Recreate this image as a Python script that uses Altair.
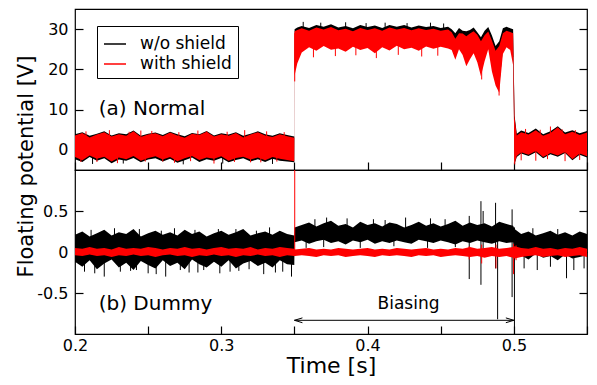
import altair as alt
import pandas as pd

SERIES = ["w/o shield", "with shield"]
COLORS = ["#000000", "#ff0000"]

X_DOMAIN = [0.2, 0.55]
X_TICKS = [0.2, 0.25, 0.3, 0.35, 0.4, 0.45, 0.5, 0.55]
TOP_Y_DOMAIN = [-5, 35]
TOP_Y_TICKS = [0, 10, 20, 30]
BOT_Y_DOMAIN = [-1, 1]
BOT_Y_TICKS = [-0.5, 0, 0.5]

# ---------------- top panel (a) Normal: noise envelopes ----------------
TOP_T = [0.200, 0.205, 0.210, 0.215, 0.220, 0.225, 0.230, 0.235, 0.240, 0.245,
         0.250, 0.255, 0.260, 0.265, 0.270, 0.275, 0.280, 0.285, 0.290, 0.295,
         0.300, 0.305, 0.310, 0.315, 0.320, 0.325, 0.330, 0.335, 0.340, 0.345, 0.3499,
         0.3501, 0.352, 0.355, 0.360, 0.365, 0.370, 0.375, 0.380, 0.385, 0.390,
         0.395, 0.400, 0.405, 0.410, 0.415, 0.420, 0.425, 0.430, 0.435, 0.440,
         0.445, 0.450, 0.455,
         0.4575, 0.460, 0.4625, 0.465, 0.4675, 0.470, 0.4725, 0.475, 0.4775, 0.480,
         0.4825, 0.485, 0.4875, 0.490, 0.4925, 0.495, 0.4975, 0.4995,
         0.5005, 0.502, 0.505, 0.510, 0.515, 0.520, 0.525, 0.530, 0.535, 0.540, 0.545, 0.550]

TOP_RED_HI = [3.6, 4.2, 3.1, 3.8, 4.4, 3.3, 3.9, 3.5, 4.6, 3.2, 3.8, 4.1, 3.4, 4.3, 3.6, 3.0,
              4.0, 3.7, 4.5, 3.3, 3.9, 3.5, 4.2, 3.1, 3.8, 4.4, 3.6, 3.2, 3.9, 3.4, 3.0,
              29.5, 29.8, 30.2, 29.6, 30.4, 29.9, 30.5, 29.7, 30.1, 29.5, 30.3, 29.8, 30.2,
              29.6, 30.4, 29.9, 30.3, 29.7, 30.2, 29.8, 30.1, 29.6, 29.9,
              29.2, 27.6, 29.0, 28.9, 28.2, 28.9, 29.5, 28.6, 27.0, 28.5, 29.4, 27.2, 24.6,
              25.8, 29.0, 29.6, 29.3, 29.0,
              8.0, 3.6, 4.4, 3.8, 4.9, 3.5, 4.2, 5.6, 3.9, 4.5, 3.7, 4.3]
TOP_RED_LO = [-1.8, -2.6, -1.4, -2.2, -1.7, -2.9, -1.9, -2.3, -1.5, -2.7, -2.0, -1.6, -2.4,
              -1.8, -2.8, -2.1, -1.5, -2.5, -1.9, -2.2, -1.6, -2.7, -2.0, -1.7, -2.4, -1.9,
              -2.6, -1.8, -2.2, -2.5, -2.8,
              18.5, 21.5, 24.2, 25.5, 24.6, 25.8, 24.9, 25.2, 24.4, 25.6, 24.8, 25.3, 24.0,
              25.5, 24.7, 25.9, 25.0, 25.4, 24.6, 25.7, 25.1, 25.6, 25.2,
              24.8, 22.4, 25.0, 23.6, 20.8, 22.5, 24.0, 21.8, 18.3, 22.0, 25.0, 19.5, 16.0,
              14.2, 23.8, 25.5, 24.8, 21.0,
              -3.3, -1.5, -0.6, -1.2, -0.3, -1.8, -0.8, -1.4, -0.5, -2.3, -0.9, -1.6]
TOP_BLACK_HI = [3.9, 4.4, 3.5, 4.0, 4.6, 3.6, 4.1, 3.9, 4.8, 3.5, 4.0, 4.3, 3.7, 4.5, 3.9, 3.4,
                4.2, 3.9, 4.7, 3.6, 4.1, 3.8, 4.4, 3.5, 4.0, 4.6, 3.9, 3.5, 4.1, 3.7, 3.3,
                30.0, 30.4, 30.8, 30.3, 31.0, 30.6, 31.2, 30.4, 30.8, 30.2, 31.0, 30.5, 30.9,
                30.3, 31.0, 30.6, 31.0, 30.4, 30.9, 30.5, 30.8, 30.3, 30.6,
                30.0, 29.0, 30.3, 29.6, 29.5, 29.8, 30.4, 29.2, 28.0, 29.6, 30.5, 28.4, 25.8,
                27.0, 30.2, 30.6, 30.2, 30.0,
                8.5, 4.0, 4.8, 4.2, 5.3, 3.9, 4.6, 5.9, 4.3, 4.9, 4.1, 4.7]
TOP_BLACK_LO = [-2.3, -3.0, -1.8, -2.7, -2.1, -3.3, -2.4, -2.7, -2.0, -3.1, -2.4, -2.1, -2.9,
                -2.2, -3.2, -2.6, -1.9, -3.0, -2.3, -2.7, -2.0, -3.1, -2.5, -2.1, -2.9, -2.3,
                -3.0, -2.2, -2.7, -2.9, -3.1,
                20.0, 23.0, 26.0, 26.5, 26.0, 26.8, 26.2, 26.5, 26.0, 26.7, 26.1, 26.4, 25.8,
                26.6, 26.0, 26.9, 26.2, 26.5, 26.0, 26.8, 26.3, 26.6, 26.4,
                26.0, 24.0, 26.0, 25.0, 22.0, 24.0, 26.0, 23.0, 20.0, 23.0, 26.0, 21.0, 18.0,
                16.0, 25.0, 26.0, 26.0, 23.0,
                -3.5, -1.8, -0.9, -1.5, -0.6, -2.1, -1.1, -1.7, -0.8, -2.6, -1.2, -1.9]

# single-sample spikes, top panel (0 = w/o shield, 1 = with shield)
TOP_SPK_T = [0.2120, 0.2330, 0.2740, 0.3010, 0.3350,
             0.3560, 0.3680, 0.3850, 0.3990, 0.4120, 0.4270, 0.4430, 0.4520,
             0.2040, 0.2075, 0.2150, 0.2235, 0.2290, 0.2370, 0.2450, 0.2480, 0.2525,
             0.2600, 0.2680, 0.2710, 0.2790, 0.2840, 0.2900, 0.2950, 0.3040, 0.3090,
             0.3160, 0.3200, 0.3270, 0.3310, 0.3380, 0.3430,
             0.3502, 0.3630, 0.3780, 0.3920, 0.4060, 0.4210, 0.4370, 0.4480,
             0.4780, 0.4899, 0.5006,
             0.5050, 0.5080, 0.5150, 0.5180, 0.5230, 0.5250, 0.5330, 0.5350, 0.5420, 0.5450]
TOP_SPK_LO = [-3.5, -3.4, -3.6, -3.4, -3.5,
              30.0, 30.0, 30.0, 30.0, 30.0, 30.0, 30.0, 30.0,
              -3.0, 1.0, -3.0, 1.0, -3.3, 1.0, 1.0, -2.9, 1.0,
              -2.9, -3.2, 1.0, -2.8, 1.0, 1.0, -3.4, 1.0, -3.0,
              1.0, -3.1, -3.1, 1.0, -2.9, 1.0,
              17.0, 23.0, 23.3, 23.5, 22.8, 23.6, 23.2, 23.4,
              17.5, 13.5, -3.6,
              -2.6, 1.5, -2.7, 1.5, -2.3, 1.5, 1.5, -2.8, 1.5, -2.5]
TOP_SPK_HI = [0.0, 0.0, 0.0, 0.0, 0.0,
              31.8, 31.6, 31.7, 31.5, 31.6, 31.5, 31.6, 31.4,
              0.0, 4.6, 0.0, 4.9, 0.0, 4.5, 4.8, 0.0, 4.7,
              0.0, 0.0, 4.4, 0.0, 4.8, 4.6, 0.0, 4.5, 0.0,
              4.9, 0.0, 0.0, 4.6, 0.0, 4.4,
              29.0, 27.0, 27.0, 27.0, 27.0, 27.0, 27.0, 27.0,
              26.0, 24.0, 5.0,
              1.5, 5.2, 1.5, 5.0, 1.5, 5.8, 5.1, 1.5, 4.9, 1.5]
TOP_SPK_S = [0] * 13 + [1] * 45

# ---------------- bottom panel (b) Dummy ----------------
BOT_T = [0.200, 0.205, 0.210, 0.215, 0.220, 0.225, 0.230, 0.235, 0.240, 0.245,
         0.250, 0.255, 0.260, 0.265, 0.270, 0.275, 0.280, 0.285, 0.290, 0.295,
         0.300, 0.305, 0.310, 0.315, 0.320, 0.325, 0.330, 0.335, 0.340, 0.345, 0.3499,
         0.3501, 0.355, 0.360, 0.365, 0.370, 0.375, 0.380, 0.385, 0.390, 0.395,
         0.400, 0.405, 0.410, 0.415, 0.420, 0.425, 0.430, 0.435, 0.440, 0.445,
         0.450, 0.455, 0.460, 0.465, 0.470, 0.475, 0.480, 0.485, 0.490, 0.495, 0.4995,
         0.5005, 0.505, 0.510, 0.515, 0.520, 0.525, 0.530, 0.535, 0.540, 0.545, 0.550]

BOT_BLACK_HI = [0.21, 0.25, 0.19, 0.23, 0.27, 0.20, 0.24, 0.22, 0.28, 0.19, 0.23, 0.26, 0.21,
                0.24, 0.20, 0.27, 0.22, 0.25, 0.19, 0.23, 0.26, 0.21, 0.24, 0.28, 0.20, 0.23,
                0.25, 0.21, 0.26, 0.22, 0.20,
                0.30, 0.33, 0.36, 0.31, 0.35, 0.38, 0.32, 0.34, 0.30, 0.37, 0.33, 0.35, 0.31,
                0.36, 0.34, 0.30, 0.33, 0.37, 0.32, 0.35, 0.31, 0.34, 0.38, 0.32, 0.36, 0.33,
                0.35, 0.31, 0.37, 0.34, 0.32,
                0.28, 0.22, 0.25, 0.20, 0.23, 0.26, 0.21, 0.24, 0.20, 0.25, 0.22]
BOT_BLACK_LO = [-0.12, -0.18, -0.10, -0.21, -0.14, -0.09, -0.19, -0.13, -0.22, -0.11, -0.16,
                -0.20, -0.10, -0.17, -0.13, -0.21, -0.09, -0.15, -0.19, -0.12, -0.18, -0.10,
                -0.20, -0.14, -0.11, -0.17, -0.13, -0.19, -0.10, -0.15, -0.16,
                0.12, 0.14, 0.10, 0.13, 0.15, 0.11, 0.13, 0.09, 0.14, 0.12, 0.15, 0.10, 0.13,
                0.11, 0.14, 0.12, 0.10, 0.15, 0.13, 0.11, 0.14, 0.12, 0.09, 0.13, 0.11, 0.14,
                0.12, 0.10, 0.13, 0.11, 0.12,
                -0.08, -0.04, -0.09, -0.02, -0.07, -0.05, -0.10, -0.03, -0.08, -0.06, -0.04]
BOT_RED_HI = [0.05, 0.04, 0.06, 0.04, 0.05, 0.03, 0.06, 0.04, 0.05, 0.04, 0.06, 0.05, 0.03,
              0.05, 0.04, 0.06, 0.04, 0.05, 0.03, 0.05, 0.06, 0.04, 0.05, 0.04, 0.06, 0.03,
              0.05, 0.04, 0.06, 0.05, 0.04,
              0.03, 0.04, 0.05, 0.03, 0.04, 0.03, 0.05, 0.04, 0.03, 0.04, 0.05, 0.03, 0.04,
              0.03, 0.05, 0.04, 0.03, 0.04, 0.05, 0.03, 0.04, 0.03, 0.05, 0.04, 0.06, 0.04,
              0.05, 0.06, 0.04, 0.05, 0.06,
              0.07, 0.05, 0.04, 0.06, 0.04, 0.05, 0.03, 0.05, 0.04, 0.06, 0.04]
BOT_RED_LO = [-0.04, -0.05, -0.03, -0.05, -0.04, -0.06, -0.04, -0.05, -0.03, -0.05, -0.04,
              -0.06, -0.04, -0.03, -0.05, -0.04, -0.06, -0.04, -0.05, -0.03, -0.05, -0.04,
              -0.06, -0.04, -0.05, -0.03, -0.05, -0.04, -0.06, -0.04, -0.05,
              -0.05, -0.04, -0.05, -0.06, -0.04, -0.05, -0.04, -0.06, -0.05, -0.04, -0.05,
              -0.06, -0.04, -0.05, -0.04, -0.05, -0.06, -0.04, -0.05, -0.04, -0.06, -0.05,
              -0.04, -0.05, -0.06, -0.05, -0.07, -0.05, -0.06, -0.05, -0.07,
              -0.08, -0.06, -0.05, -0.04, -0.06, -0.05, -0.04, -0.06, -0.05, -0.04, -0.06]

BOT_SPK_T = [0.2135, 0.2200, 0.2310, 0.2420, 0.2555, 0.2620, 0.2780, 0.2880, 0.2990, 0.3120,
             0.3290, 0.3420, 0.3480, 0.2270, 0.2680, 0.2980, 0.3330,
             0.2065, 0.2380, 0.2500, 0.2720, 0.2840, 0.3060, 0.3190, 0.3370,
             0.2110, 0.2440, 0.2590, 0.2820, 0.3100, 0.3240,
             0.3580, 0.3700, 0.3950, 0.4180, 0.4410, 0.4600, 0.3720, 0.4040, 0.4430,
             0.3640, 0.3860, 0.4120, 0.4260, 0.4530,
             0.4695, 0.4775, 0.4790, 0.4875, 0.4889, 0.4988, 0.5004,
             0.5070, 0.5160, 0.5250, 0.5360, 0.5410, 0.5480, 0.5130, 0.5300,
             0.3502, 0.4695, 0.4780, 0.4878, 0.4998, 0.5015]
BOT_SPK_LO = [-0.26, -0.30, -0.24, -0.22, -0.27, -0.30, -0.25, -0.22, -0.26, -0.23,
              -0.27, -0.24, -0.30, 0.10, 0.10, 0.10, 0.10,
              -0.24, -0.23, -0.26, -0.22, -0.25, -0.24, -0.21, -0.25,
              0.10, 0.10, 0.10, 0.10, 0.10, 0.10,
              0.05, 0.06, 0.05, 0.07, 0.05, 0.06, 0.20, 0.20, 0.20,
              0.20, 0.20, 0.20, 0.20, 0.20,
              -0.33, -0.40, 0.00, -0.20, -0.82, -0.55, -1.00,
              -0.20, -0.22, -0.18, -0.32, -0.22, -0.20, 0.10, 0.10,
              -0.05, -0.09, -0.14, -0.20, -0.27, -0.10]
BOT_SPK_HI = [0.00, 0.00, 0.00, 0.00, 0.00, 0.00, 0.00, 0.00, 0.00, 0.00,
              0.00, 0.00, 0.00, 0.29, 0.29, 0.28, 0.30,
              0.00, 0.00, 0.00, 0.00, 0.00, 0.00, 0.00, 0.00,
              0.27, 0.28, 0.26, 0.27, 0.28, 0.26,
              0.20, 0.20, 0.20, 0.20, 0.20, 0.20, 0.42, 0.40, 0.41,
              0.40, 0.41, 0.39, 0.42, 0.40,
              0.44, 0.62, 0.50, 0.60, 0.30, 0.52, 0.30,
              0.10, 0.10, 0.10, 0.10, 0.10, 0.10, 0.29, 0.28,
              1.05, 0.07, 0.09, 0.09, 0.10, 0.08]
BOT_SPK_S = [0] * 60 + [1] * 6

# annotations
TOP_TEXT = ["(a) Normal"]
TOP_TEXT_T = [0.2162]
TOP_TEXT_V = [10.2]
BOT_TEXT = ["(b) Dummy"]
BOT_TEXT_T = [0.2162]
BOT_TEXT_V = [-0.64]
BIAS_TEXT = ["Biasing"]
BIAS_TEXT_T = [0.428]
BIAS_TEXT_V = [-0.64]
ARROW_T = [0.35]
ARROW_T2 = [0.5]
ARROW_V = [-0.833]

W, H_TOP, H_BOT = 512, 161, 164
FONT = "DejaVu Sans"


def bands(t, lo, hi):
    return pd.DataFrame({"t": t, "lo": lo, "hi": hi})


def spikes(t, lo, hi, s):
    return pd.DataFrame({"t": t, "lo": lo, "hi": hi, "series": [SERIES[i] for i in s]})


top_black = bands(TOP_T, TOP_BLACK_LO, TOP_BLACK_HI)
top_red = bands(TOP_T, TOP_RED_LO, TOP_RED_HI)
top_spk = spikes(TOP_SPK_T, TOP_SPK_LO, TOP_SPK_HI, TOP_SPK_S)
bot_black = bands(BOT_T, BOT_BLACK_LO, BOT_BLACK_HI)
bot_red = bands(BOT_T, BOT_RED_LO, BOT_RED_HI)
bot_spk = spikes(BOT_SPK_T, BOT_SPK_LO, BOT_SPK_HI, BOT_SPK_S)

color_scale = alt.Scale(domain=SERIES, range=COLORS)

legend = alt.Legend(title=None, orient="none", legendX=22, legendY=17, symbolType="stroke",
                    symbolStrokeWidth=1.5, symbolSize=484, labelFontSize=17, labelFont=FONT,
                    labelColor="black", labelOffset=13, padding=6, rowPadding=0,
                    strokeColor="black", fillColor="white", symbolOpacity=1)


def x_enc(field="t", labels=False):
    ax = dict(values=X_TICKS, offset=-8, tickSize=8, domain=False, grid=False,
              labelFlush=False)
    if labels:
        ax.update(labels=True,
                  labelExpr="round(datum.value*100) % 10 == 0 ? toString(round(datum.value*10)/10) : ''",
                  labelPadding=3, labelFontSize=16, title="Time [s]", titleFontSize=22,
                  titleFontWeight="normal", titlePadding=2)
    else:
        ax.update(labels=False, title=None)
    return alt.X(f"{field}:Q", scale=alt.Scale(domain=X_DOMAIN, nice=False, zero=False),
                 axis=alt.Axis(**ax))


def y_enc(field, domain, ticks, main_title=False):
    ax = dict(values=ticks, offset=-8, tickSize=8, domain=False, grid=False,
              labelPadding=7, labelFontSize=16, labelFlush=False,
              labelExpr="toString(datum.value)")
    if main_title:
        ax.update(title="Floating potential [V]", titleFontSize=21, titleFontWeight="normal",
                  titleAngle=-90, titleX=-51, titleY=157, titleAlign="center",
                  titleBaseline="alphabetic")
    else:
        ax.update(title=None)
    return alt.Y(f"{field}:Q", scale=alt.Scale(domain=domain, nice=False, zero=False),
                 axis=alt.Axis(**ax))


def right_axis(df, domain, ticks, xlabels):
    return alt.Chart(df).mark_point(opacity=0, size=0, clip=True).encode(
        x=x_enc(labels=xlabels),
        y=alt.Y("lo:Q", scale=alt.Scale(domain=domain, nice=False, zero=False),
                axis=alt.Axis(orient="right", values=ticks, offset=-8, tickSize=8,
                              domain=False, grid=False, labels=False, title=None)),
    )


def panel_layers(black, red, spk, domain, ticks, main_title, xlabels):
    layers = []
    for s, df, col in ((SERIES[0], black, COLORS[0]), (SERIES[1], red, COLORS[1])):
        layers.append(
            alt.Chart(df).mark_area(clip=True, color=col).encode(
                x=x_enc(labels=xlabels),
                y=y_enc("lo", domain, ticks, main_title),
                y2=alt.Y2("hi:Q"),
            )
        )
        layers.append(
            alt.Chart(spk).transform_filter(alt.datum.series == s).mark_rule(clip=True, strokeWidth=1).encode(
                x=x_enc(labels=xlabels),
                y=y_enc("lo", domain, ticks, main_title),
                y2=alt.Y2("hi:Q"),
                stroke=alt.Stroke("series:N", scale=color_scale, legend=legend),
            )
        )
    return layers


top_layers = panel_layers(top_black, top_red, top_spk, TOP_Y_DOMAIN, TOP_Y_TICKS, True, False)
top_text = alt.Chart(pd.DataFrame({"t": TOP_TEXT_T, "v": TOP_TEXT_V, "label": TOP_TEXT})).mark_text(
    align="left", baseline="middle", fontSize=20, font=FONT, color="black").encode(
    x=x_enc(), y=y_enc("v", TOP_Y_DOMAIN, TOP_Y_TICKS, True), text="label:N")
top_main = alt.layer(*top_layers, top_text)
top = alt.layer(top_main, right_axis(top_black, TOP_Y_DOMAIN, TOP_Y_TICKS, False)).resolve_axis(
    y="independent").properties(width=W, height=H_TOP)

bot_layers = panel_layers(bot_black, bot_red, bot_spk, BOT_Y_DOMAIN, BOT_Y_TICKS, False, True)
bot_text = alt.Chart(pd.DataFrame({"t": BOT_TEXT_T, "v": BOT_TEXT_V, "label": BOT_TEXT})).mark_text(
    align="left", baseline="middle", fontSize=20, font=FONT, color="black").encode(
    x=x_enc(labels=True), y=y_enc("v", BOT_Y_DOMAIN, BOT_Y_TICKS), text="label:N")
bias_text = alt.Chart(pd.DataFrame({"t": BIAS_TEXT_T, "v": BIAS_TEXT_V, "label": BIAS_TEXT})).mark_text(
    align="center", baseline="middle", fontSize=17, font=FONT, color="black").encode(
    x=x_enc(labels=True), y=y_enc("v", BOT_Y_DOMAIN, BOT_Y_TICKS), text="label:N")
arrow_df = pd.DataFrame({"t": ARROW_T, "t2": ARROW_T2, "v": ARROW_V})
arrow_line = alt.Chart(arrow_df).mark_rule(color="black", strokeWidth=1).encode(
    x=x_enc(labels=True), x2=alt.X2("t2:Q"), y=y_enc("v", BOT_Y_DOMAIN, BOT_Y_TICKS))
arrow_l = alt.Chart(arrow_df).mark_point(shape="M2,-0.6L0,0L2,0.6", size=64, filled=False,
                                          color="black", strokeWidth=1, opacity=1).encode(
    x=x_enc(labels=True), y=y_enc("v", BOT_Y_DOMAIN, BOT_Y_TICKS))
arrow_r = alt.Chart(arrow_df).mark_point(shape="M-2,-0.6L0,0L-2,0.6", size=64, filled=False,
                                          color="black", strokeWidth=1, opacity=1).encode(
    x=x_enc("t2", labels=True), y=y_enc("v", BOT_Y_DOMAIN, BOT_Y_TICKS))
bot_main = alt.layer(*bot_layers, bot_text, bias_text, arrow_line, arrow_l, arrow_r)
bottom = alt.layer(bot_main, right_axis(bot_black, BOT_Y_DOMAIN, BOT_Y_TICKS, True)).resolve_axis(
    y="independent").properties(width=W, height=H_BOT)

PAD = {"left": 6, "top": 0, "right": 0, "bottom": 0}
chart = alt.vconcat(top, bottom, spacing=0, bounds="flush").properties(
    padding=PAD
).configure(font=FONT, padding=PAD).configure_view(
    stroke="black", strokeWidth=1.2
).configure_axis(
    labelColor="black", tickColor="black", titleColor="black", tickWidth=1.2,
    labelFont=FONT, titleFont=FONT, labelFontSize=16
)

chart.save("out.html", embed_options={"renderer": "svg", "actions": False})
